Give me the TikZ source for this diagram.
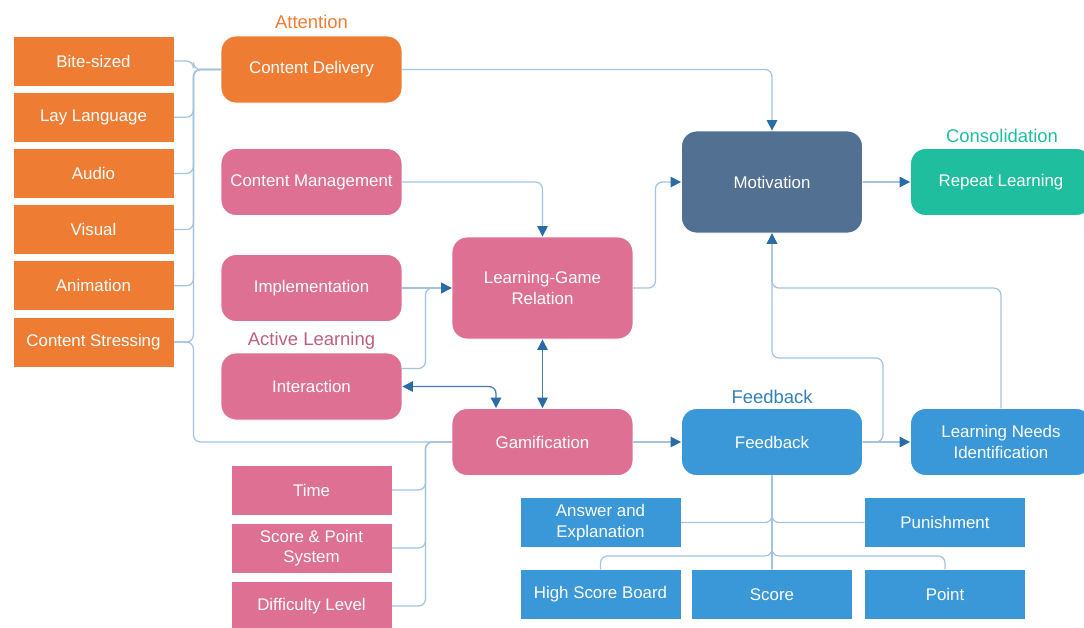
\documentclass[tikz,border=0pt]{standalone}
\usepackage{fontspec}
\setmainfont{Liberation Sans}
\usetikzlibrary{arrows.meta,positioning}
\definecolor{attorange}{HTML}{EE7D33}
\definecolor{actpink}{HTML}{DD7093}
\definecolor{motslate}{HTML}{527091}
\definecolor{consteal}{HTML}{1EBE9E}
\definecolor{fbblue}{HTML}{3A98D9}
\definecolor{linkblue}{HTML}{A3C3DE}
\definecolor{tipblue}{HTML}{2A6CA5}

\begin{document}
\begin{tikzpicture}[x=0.02cm,y=-0.02cm,line cap=round,
    box/.style={draw=white,line width=.5pt,text=white,align=center,inner sep=0pt,
        font=\fontsize{9.6}{11.6}\selectfont},
    leaf/.style={box,minimum width=3.22cm,minimum height=1cm},
    stage/.style={box,rounded corners=.3cm,minimum width=3.62cm,minimum height=1.34cm},
    bigstage/.style={stage,minimum height=2.04cm},
    tag/.style={font=\fontsize{10.5}{12}\selectfont},
    link/.style={draw=linkblue,line width=.7pt,rounded corners=4pt},
    arrow/.style={link,-{Triangle[length=6pt,width=6pt,color=tipblue]}},
    biarrow/.style={link,draw=tipblue!80!linkblue,
        {Triangle[length=6pt,width=6pt,color=tipblue]}-{Triangle[length=6pt,width=6pt,color=tipblue]}}]
    \useasboundingbox (0,0) rectangle (1084,627);
    % attention
    \node[tag,text=attorange] (attention) at (311.5,22) {Attention};
    \node[stage,fill=attorange] (delivery) at (311.5,69.5) {Content Delivery};
    \foreach \n/\t [count=\i] in {bite/Bite-sized,lay/Lay Language,audio/Audio,visual/Visual,anim/Animation,stress/Content Stressing}{
        \node[leaf,fill=attorange] (\n) at (93.5,{61+56.2*(\i-1)}) {\t};
        \draw[link] (\n.east) -- ++(19,0) |- (delivery.west);
    }
    % active learning
    \node[stage,fill=actpink] (management) at (311.5,182) {Content Management};
    \node[stage,fill=actpink] (implementation) at (311.5,288) {Implementation};
    \node[tag,text=actpink!85!black] (active) at (311.5,341) {Active Learning};
    \node[stage,fill=actpink] (interaction) at (311.5,386.5) {Interaction};
    \node[bigstage,fill=actpink] (relation) at (542.5,288) {Learning-Game\\Relation};
    \node[stage,fill=actpink] (gamification) at (542.5,442) {Gamification};
    \foreach \n/\t/\y in {time/Time/490,system/Score \& Point\\System/548,level/Difficulty Level/606}{
        \node[leaf,fill=actpink] (\n) at (311.5,\y) {\t};
        \draw[link] (\n.east) -- ++(33,0) |- (gamification.west);
    }
    \draw[link] (stress.east) -- ++(19,0) |- (gamification.west);
    % motivation and consolidation
    \node[bigstage,fill=motslate] (motivation) at (772,182) {Motivation};
    \node[tag,text=consteal] (consolidation) at (1002,136) {Consolidation};
    \node[stage,fill=consteal] (repeat) at (1001,182) {Repeat Learning};
    % feedback
    \node[tag,text=fbblue!85!black] (fbtag) at (772,397) {Feedback};
    \node[stage,fill=fbblue] (feedback) at (772,442) {Feedback};
    \node[stage,fill=fbblue] (needs) at (1001,442) {Learning Needs\\Identification};
    \node[leaf,fill=fbblue] (answer) at (600.5,522.5) {Answer and\\Explanation};
    \node[leaf,fill=fbblue] (punish) at (945,522.5) {Punishment};
    \node[leaf,fill=fbblue] (board) at (600.5,594.5) {High Score Board};
    \node[leaf,fill=fbblue] (score) at (772,594.5) {Score};
    \node[leaf,fill=fbblue] (point) at (945,594.5) {Point};
    % connectors
    \draw[arrow] (delivery.east) -| (motivation.north);
    \draw[arrow] (management.east) -| (relation.north);
    \draw[arrow] (implementation.east) -- (relation.west);
    \draw[arrow] ([yshift=.36cm]interaction.east) -- ++(23,0) |- (relation.west);
    \draw[biarrow] (interaction.east) -| ([xshift=-.93cm]gamification.north);
    \draw[biarrow] (relation.south) -- (gamification.north);
    \draw[arrow] (relation.east) -- ++(22,0) |- (motivation.west);
    \draw[arrow] (motivation.east) -- (repeat.west);
    \draw[arrow] (gamification.east) -- (feedback.west);
    \draw[arrow] (feedback.east) -- (needs.west);
    \draw[arrow] (feedback.east) -- ++(20,0) -- ++(0,-84) -| (motivation.south);
    \draw[arrow] (needs.north) -- ++(0,-120) -| (motivation.south);
    \draw[link] (feedback.south) -- (score.north);
    \draw[link] (feedback.south) |- (answer.east);
    \draw[link] (feedback.south) |- (punish.west);
    \draw[link] (feedback.south) -- ++(0,80) -| (board.north);
    \draw[link] (feedback.south) -- ++(0,80) -| (point.north);
\end{tikzpicture}
\end{document}
